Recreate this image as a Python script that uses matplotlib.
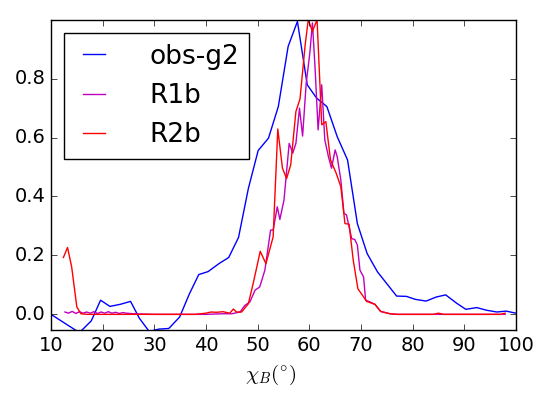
import matplotlib
matplotlib.use('Agg')
import matplotlib.pyplot as plt

# Data
obs_x = [10.0, 15.5, 17.8, 19.6, 21.4, 23.4, 25.4, 27.1, 29.0, 30.9, 32.8, 34.9,
         36.8, 38.6, 40.4, 42.5, 44.4, 46.3, 48.2, 50.1, 52.1, 54.0, 55.9, 57.7,
         59.6, 61.4, 63.4, 65.4, 67.4, 69.3, 71.2, 73.2, 76.9, 78.8, 80.5, 82.6,
         84.6, 86.4, 88.5, 90.3, 92.4, 94.3, 96.3, 98.1, 100.0]
obs_y = [0.0, -0.062, -0.022, 0.048, 0.027, 0.034, 0.044, -0.013, -0.058, -0.050,
         -0.048, -0.009, 0.070, 0.135, 0.145, 0.172, 0.193, 0.261, 0.427, 0.556,
         0.598, 0.705, 0.909, 0.994, 0.779, 0.734, 0.705, 0.603, 0.524, 0.308,
         0.206, 0.144, 0.062, 0.061, 0.051, 0.045, 0.059, 0.066, 0.038, 0.017,
         0.023, 0.014, 0.008, 0.011, 0.004]

r1b_x = [12.7, 13.4, 14.1, 14.8, 15.5, 16.2, 16.9, 17.6, 18.3, 19.0, 19.7, 20.4,
         21.1, 21.8, 22.5, 23.2, 23.9, 24.6, 25.9, 30.0, 35.0, 40.0, 43.0, 45.0,
         46.6, 47.5, 48.5, 49.5, 50.4, 51.4, 52.5, 53.0, 53.8, 54.3, 55.1, 56.1,
         56.8, 57.4, 58.1, 58.7, 59.4, 60.1, 60.6, 61.1, 61.7, 62.4, 63.0, 63.7,
         64.3, 65.0, 65.4, 66.1, 66.7, 67.2, 68.2, 68.8, 69.3, 69.8, 70.5, 70.9,
         71.5, 72.7, 73.8, 75.6, 77.0, 85.0, 97.9]
r1b_y = [0.008, 0.004, 0.010, 0.003, 0.009, 0.004, 0.008, 0.004, 0.009, 0.003,
         0.008, 0.004, 0.009, 0.004, 0.007, 0.003, 0.006, 0.004, 0.002, 0.0, 0.0,
         0.0, 0.002, 0.002, 0.008, 0.030, 0.042, 0.082, 0.093, 0.150, 0.286, 0.286,
         0.365, 0.322, 0.388, 0.580, 0.547, 0.580, 0.700, 0.605, 0.785, 0.887,
         0.989, 0.841, 0.626, 0.779, 0.592, 0.535, 0.496, 0.558, 0.535, 0.456,
         0.343, 0.337, 0.257, 0.254, 0.235, 0.150, 0.127, 0.048, 0.044, 0.034,
         0.010, 0.002, 0.0, 0.0, 0.0]

r2b_x = [12.4, 13.2, 14.0, 15.0, 15.8, 17.0, 20.0, 25.0, 30.0, 35.0, 38.0, 40.0,
         41.0, 42.0, 43.3, 44.6, 45.3, 45.9, 46.9, 48.2, 49.2, 50.5, 51.6, 53.0,
         53.9, 54.8, 55.6, 56.4, 57.4, 58.2, 59.2, 59.8, 60.6, 61.5, 62.4, 63.2,
         64.1, 65.2, 66.1, 66.9, 67.7, 68.5, 69.4, 71.1, 72.7, 73.8, 75.6, 77.0,
         84.0, 85.0, 86.0, 97.0, 97.9]
r2b_y = [0.193, 0.227, 0.161, 0.025, 0.002, 0.0, 0.0, 0.0, 0.0, 0.0, 0.0, 0.004,
         0.008, 0.007, 0.009, 0.004, 0.018, 0.008, 0.008, 0.036, 0.110, 0.214,
         0.172, 0.263, 0.629, 0.496, 0.461, 0.507, 0.688, 0.731, 0.915, 1.0, 0.96,
         1.0, 0.643, 0.654, 0.524, 0.479, 0.433, 0.308, 0.306, 0.184, 0.087,
         0.044, 0.034, 0.010, 0.002, 0.0, 0.0, 0.004, 0.0, 0.0, 0.004]

plt.style.use('classic')
plt.rcParams['mathtext.fontset'] = 'cm'

fig = plt.figure(figsize=(5.46, 3.99), dpi=100, facecolor='w')
ax = fig.add_axes([0.0934, 0.173, 0.8516, 0.777])

ax.plot(obs_x, obs_y, color='b', label='obs-g2')
ax.plot(r1b_x, r1b_y, color='m', label='R1b')
ax.plot(r2b_x, r2b_y, color='r', label='R2b')

ax.set_xlim(10, 100)
ax.set_ylim(-0.053, 0.999)
ax.set_yticks([0.0, 0.2, 0.4, 0.6, 0.8])
ax.tick_params(labelsize=14)
ax.set_xlabel(r'$\chi_B(^{\circ})$', fontsize=15)
ax.xaxis.set_label_coords(0.473, -0.105)

ax.legend(loc='upper left', fontsize=19, handlelength=1.45, handletextpad=1.37)

plt.savefig('out.png', dpi=100, facecolor='w')
